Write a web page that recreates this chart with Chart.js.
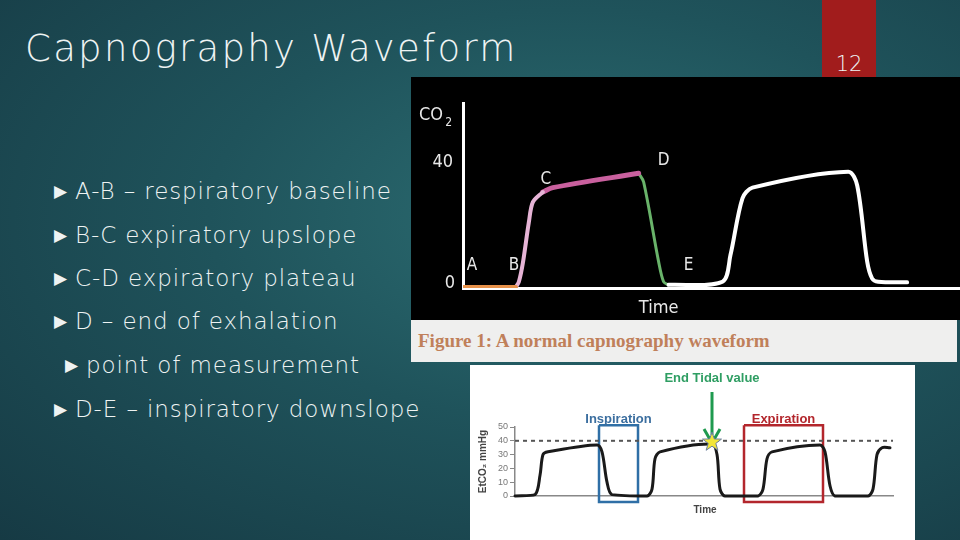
<!DOCTYPE html>
<html>
<head>
<meta charset="utf-8">
<script src="https://cdn.jsdelivr.net/npm/chart.js@4"></script>
<style>
  body { margin: 0; }
  #slide {
    position: relative; width: 960px; height: 540px; overflow: hidden;
    background: radial-gradient(ellipse at 60% 40%, #2c6d72 0%, #1f535b 45%, #163a44 100%);
    font-family: "DejaVu Sans", sans-serif; color: #eef3f3;
  }
  #title { position: absolute; left: 25px; top: 27px; font-size: 37px; font-weight: 200; letter-spacing: 2.3px; }
  #tab { position: absolute; left: 822px; top: 0; width: 54px; height: 78px; background: #a11c1c; }
  #tab span { position: absolute; left: 0; right: 0; bottom: 2px; text-align: center; font-size: 21px; font-weight: 200; }
  .b { position: absolute; font-size: 23px; font-weight: 200; white-space: nowrap; letter-spacing: 0.9px; }
  .b::before { content: "\25B6"; font-size: 17px; position: absolute; left: -21px; top: 3px; }
  #topPanel { position: absolute; left: 411px; top: 77px; width: 549px; height: 243px; background: #000; }
  #caption { position: absolute; left: 411px; top: 320px; width: 546px; height: 42px; background: #efefee;
    font-family: "Liberation Serif", serif; font-weight: bold; font-size: 19px; color: #c0805a; }
  #caption span { position: absolute; left: 7px; top: 10px; }
  #botPanel { position: absolute; left: 470px; top: 365px; width: 445px; height: 175px; background: #fff; }
  canvas { position: absolute; left: 0; top: 0; }
</style>
</head>
<body>
<div id="slide">
  <div id="title">Capnography Waveform</div>
  <div id="tab"><span>12</span></div>
  <div class="b" style="left:75px;top:178px">A-B – respiratory baseline</div>
  <div class="b" style="left:75px;top:222px">B-C expiratory upslope</div>
  <div class="b" style="left:75px;top:265px">C-D expiratory plateau</div>
  <div class="b" style="left:75px;top:308px">D – end of exhalation</div>
  <div class="b" style="left:86px;top:352px">point of measurement</div>
  <div class="b" style="left:75px;top:396px">D-E – inspiratory downslope</div>
  <div id="topPanel"><canvas id="topChart" width="549" height="243"></canvas></div>
  <div id="caption"><span>Figure 1: A normal capnography waveform</span></div>
  <div id="botPanel"><canvas id="botChart" width="445" height="175"></canvas></div>
</div>
<script>
// Top figure: time units along the axis, CO2 in mmHg
const abTime = [0, 53];
const abCO2 = [0.3, 0.3];
const bcTime = [53, 56, 60, 66, 70, 80];
const bcCO2 = [0.3, 2, 8, 21, 27.4, 30.6];
const cdTime = [80, 90, 176];
const cdCO2 = [30.6, 32, 36.6];
const deTime = [176, 181, 196, 201, 206];
const deCO2 = [36.6, 33.8, 8.4, 2, 1];
const restTime = [206, 260, 268, 280, 290, 386, 395, 405, 410, 416, 445];
const restCO2 = [1, 2, 10.5, 28.6, 32, 37.1, 32.7, 8.4, 3, 2, 1.8];
const pointLetters = ["A", "B", "C", "D", "E"];
const letterTime = [9, 51, 83, 201, 226];
const letterCO2 = [4, 4, 31.5, 37.5, 4];

// Bottom figure: EtCO2 trace
const etTime = [0, 20, 25, 28, 33, 82, 87, 92, 97, 132, 137, 140, 145, 197, 202, 205, 210, 243, 248, 252, 257, 305, 310, 315, 320, 353, 358, 362, 367, 375];
const etCO2 = [0, 1, 15, 30, 32, 37, 32, 10, 1, 0, 5, 27, 32, 37.6, 30, 5, 0, 0, 5, 27, 32, 37, 32, 7.4, 0, 0, 5, 30, 35, 35];
const etTicks = [0, 10, 20, 30, 40, 50];
const endTidal = 40;
const inspBox = [84, 123, -4.4, 51.3];
const expBox = [229, 308, -4.4, 51.3];
const starPoint = [197, 39];

const pts = (xs, ys) => xs.map((x, i) => ({ x: x, y: ys[i] }));
const line = (xs, ys, color, w) => ({
  data: pts(xs, ys), borderColor: color, borderWidth: w, pointRadius: 0,
  tension: 0.3, fill: false, borderCapStyle: "round", borderJoinStyle: "round"
});
const rect = (b, color) => ({
  data: pts([b[0], b[1], b[1], b[0], b[0]], [b[3], b[3], b[2], b[2], b[3]]),
  borderColor: color, borderWidth: 2.5, pointRadius: 0, tension: 0, fill: false
});

const topLabels = {
  id: "topLabels",
  afterDraw(chart) {
    const { ctx, scales: { x, y }, chartArea } = chart;
    ctx.save();
    ctx.fillStyle = "#e8e8e8";
    ctx.font = "17px 'DejaVu Sans Condensed', sans-serif";
    ctx.textAlign = "center";
    ctx.textBaseline = "middle";
    pointLetters.forEach((l, i) => ctx.fillText(l, x.getPixelForValue(letterTime[i]), y.getPixelForValue(letterCO2[i]) - 10));
    ctx.font = "18px 'DejaVu Sans Condensed', sans-serif";
    ctx.textAlign = "right";
    ctx.fillText("40", chartArea.left - 10, y.getPixelForValue(40));
    ctx.fillText("0", chartArea.left - 8, y.getPixelForValue(1.5));
    ctx.fillText("CO", chartArea.left - 20, chartArea.top + 12);
    ctx.font = "12px 'DejaVu Sans Condensed', sans-serif";
    ctx.fillText("2", chartArea.left - 11, chartArea.top + 20);
    ctx.font = "18px 'DejaVu Sans Condensed', sans-serif";
    ctx.textAlign = "center";
    ctx.fillText("Time", x.getPixelForValue(196), chartArea.bottom + 20);
    ctx.restore();
  }
};

new Chart(document.getElementById("topChart"), {
  type: "line",
  data: {
    datasets: [
      line(restTime, restCO2, "#ffffff", 4),
      line(abTime, abCO2, "#e8924a", 4),
      line(bcTime, bcCO2, "#e6b4d6", 4),
      line(cdTime, cdCO2, "#c9609e", 5),
      line(deTime, deCO2, "#69b36a", 3)
    ]
  },
  options: {
    responsive: false, animation: false,
    layout: { padding: { left: 44, top: 26, right: 0, bottom: 24 } },
    plugins: { legend: { display: false }, tooltip: { enabled: false } },
    scales: {
      x: { type: "linear", min: 0, max: 498, ticks: { display: false }, grid: { display: false },
           border: { color: "#ffffff", width: 3 } },
      y: { min: 0, max: 59, ticks: { display: false }, grid: { display: false },
           border: { color: "#ffffff", width: 3 } }
    }
  },
  plugins: [topLabels]
});

const botLabels = {
  id: "botLabels",
  afterDraw(chart) {
    const { ctx, scales: { x, y }, chartArea } = chart;
    ctx.save();
    ctx.textAlign = "center";
    ctx.textBaseline = "middle";
    ctx.font = "bold 13px 'Liberation Sans', sans-serif";
    ctx.fillStyle = "#2f9e63";
    const sx = x.getPixelForValue(starPoint[0]);
    ctx.fillText("End Tidal value", sx, 13);
    ctx.fillStyle = "#3b6e9f";
    ctx.fillText("Inspiration", x.getPixelForValue((inspBox[0] + inspBox[1]) / 2), 54);
    ctx.fillStyle = "#b3262c";
    ctx.fillText("Expiration", x.getPixelForValue((expBox[0] + expBox[1]) / 2), 54);
    // arrow
    ctx.strokeStyle = "#1f9a4f"; ctx.fillStyle = "#1f9a4f"; ctx.lineWidth = 3;
    ctx.beginPath(); ctx.moveTo(sx, 27); ctx.lineTo(sx, 70); ctx.stroke();
    ctx.beginPath(); ctx.moveTo(sx - 8, 64); ctx.lineTo(sx, 78); ctx.lineTo(sx + 8, 64); ctx.stroke();
    // star
    const sy = y.getPixelForValue(starPoint[1]);
    ctx.beginPath();
    for (let i = 0; i < 10; i++) {
      const r = i % 2 ? 4 : 10, a = -Math.PI / 2 + i * Math.PI / 5;
      ctx.lineTo(sx + r * Math.cos(a), sy + r * Math.sin(a));
    }
    ctx.closePath();
    ctx.fillStyle = "#f2e63a"; ctx.fill();
    ctx.strokeStyle = "#6a7fa0"; ctx.lineWidth = 1; ctx.stroke();
    ctx.fillStyle = "#444";
    ctx.font = "bold 10px 'Liberation Sans', sans-serif";
    ctx.fillText("Time", x.getPixelForValue(190), chartArea.bottom + 14);
    ctx.translate(chartArea.left - 32, (chartArea.top + chartArea.bottom) / 2);
    ctx.rotate(-Math.PI / 2);
    ctx.fillText("EtCO\u2082 mmHg", 0, 0);
    ctx.restore();
  }
};

new Chart(document.getElementById("botChart"), {
  type: "line",
  data: {
    datasets: [
      { data: pts([0, 378], [endTidal, endTidal]), borderColor: "#555", borderWidth: 2, borderDash: [4, 4], pointRadius: 0 },
      line(etTime, etCO2, "#1a1a1a", 3),
      rect(inspBox, "#2f6fa6"),
      rect(expBox, "#b3262c")
    ]
  },
  options: {
    responsive: false, animation: false,
    layout: { padding: { left: 26, top: 62, right: 22, bottom: 36 } },
    plugins: { legend: { display: false }, tooltip: { enabled: false } },
    clip: false,
    scales: {
      x: { type: "linear", min: 0, max: 378, ticks: { display: false }, grid: { display: false },
           border: { color: "#888", width: 1.5 } },
      y: { min: 0, max: 50, afterBuildTicks: s => { s.ticks = etTicks.map(v => ({ value: v })); },
           ticks: { color: "#777", font: { size: 9 }, padding: 2 },
           grid: { drawOnChartArea: false, tickLength: 5, color: "#888" },
           border: { color: "#888", width: 1.5 } }
    }
  },
  plugins: [botLabels]
});
</script>
</body>
</html>
